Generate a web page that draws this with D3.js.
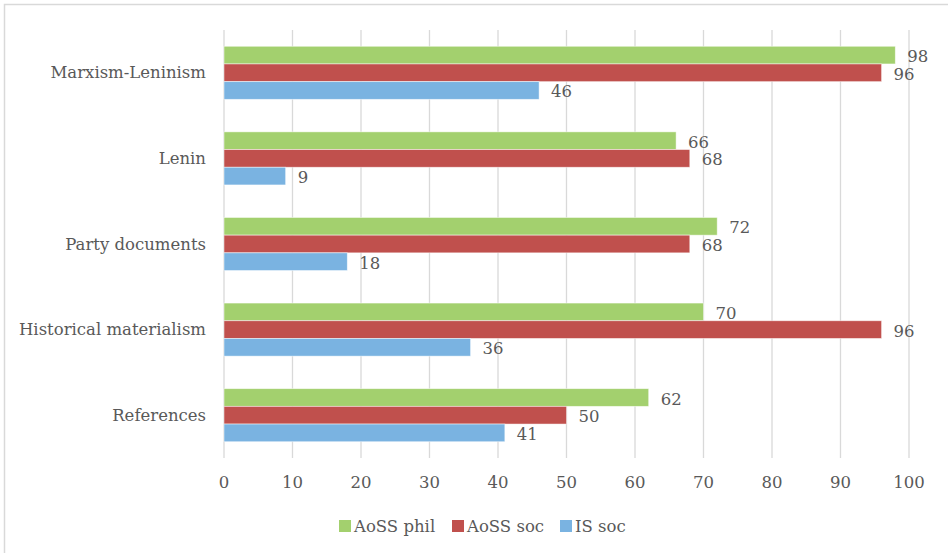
<!DOCTYPE html>
<html>
<head>
<meta charset="utf-8">
<script src="https://cdn.jsdelivr.net/npm/d3@7"></script>
<style>
  html, body { margin: 0; padding: 0; background: #fff; }
  svg { display: block; }
  text { font-family: "DejaVu Serif", "Liberation Serif", serif; fill: #595959; }
</style>
</head>
<body>
<svg id="chart" width="948" height="553"></svg>
<script>
const categories = ["Marxism-Leninism", "Lenin", "Party documents", "Historical materialism", "References"];
const seriesNames = ["AoSS phil", "AoSS soc", "IS soc"];
const aossPhil = [98, 66, 72, 70, 62];
const aossSoc  = [96, 68, 68, 96, 50];
const isSoc    = [46, 9, 18, 36, 41];
const seriesColors = ["#A3D06E", "#C0504D", "#7AB3E1"];
const xTicks = [0, 10, 20, 30, 40, 50, 60, 70, 80, 90, 100];

const seriesValues = [aossPhil, aossSoc, isSoc];

const svg = d3.select("#chart");
const W = 948, H = 553;
const FS = 16.5;

// outer border
svg.append("rect")
  .attr("x", 4.5).attr("y", 4.5)
  .attr("width", W + 10).attr("height", H + 10)
  .attr("fill", "#fff").attr("stroke", "#d9d9d9").attr("stroke-width", 1.5);

const x = d3.scaleLinear().domain([0, 100]).range([224, 909]);
const y = d3.scaleBand().domain(categories).range([30, 458])
  .paddingInner(0.38).paddingOuter(0.19);
const ySub = d3.scaleBand().domain(seriesNames).range([0, y.bandwidth()]);

// gridlines
svg.append("g").selectAll("line").data(xTicks).join("line")
  .attr("x1", d => x(d)).attr("x2", d => x(d))
  .attr("y1", 30).attr("y2", 458)
  .attr("stroke", "#d9d9d9").attr("stroke-width", 1.3);

// x tick labels
svg.append("g").selectAll("text").data(xTicks).join("text")
  .attr("x", d => x(d)).attr("y", 482)
  .attr("text-anchor", "middle").attr("dominant-baseline", "central")
  .attr("font-size", FS)
  .text(d => d);

// category labels
svg.append("g").selectAll("text").data(categories).join("text")
  .attr("x", 206).attr("y", d => y(d) + y.bandwidth() / 2)
  .attr("text-anchor", "end").attr("dominant-baseline", "central")
  .attr("font-size", FS)
  .text(d => d);

// bars
const rows = [];
categories.forEach((c, i) => {
  seriesNames.forEach((s, j) => {
    rows.push({ cat: c, series: s, value: seriesValues[j][i], color: seriesColors[j] });
  });
});

svg.append("g").selectAll("rect").data(rows).join("rect")
  .attr("x", x(0))
  .attr("y", d => y(d.cat) + ySub(d.series))
  .attr("width", d => x(d.value) - x(0))
  .attr("height", ySub.bandwidth())
  .attr("fill", d => d.color)
  .attr("stroke", "#ffffff").attr("stroke-opacity", 0.6).attr("stroke-width", 0.8);

// value labels
svg.append("g").selectAll("text").data(rows).join("text")
  .attr("x", d => x(d.value) + 12)
  .attr("y", d => y(d.cat) + ySub(d.series) + ySub.bandwidth() / 2 + 1.5)
  .attr("dominant-baseline", "central")
  .attr("font-size", FS)
  .text(d => d.value);

// legend
const legendX = [339, 452, 560];
const lg = svg.append("g").selectAll("g").data(seriesNames).join("g")
  .attr("transform", (d, i) => `translate(${legendX[i]},520)`);
lg.append("rect").attr("width", 12).attr("height", 12)
  .attr("fill", (d, i) => seriesColors[i]);
lg.append("text").attr("x", 15).attr("y", 6)
  .attr("dominant-baseline", "central")
  .attr("font-size", FS)
  .text(d => d);
</script>
</body>
</html>
